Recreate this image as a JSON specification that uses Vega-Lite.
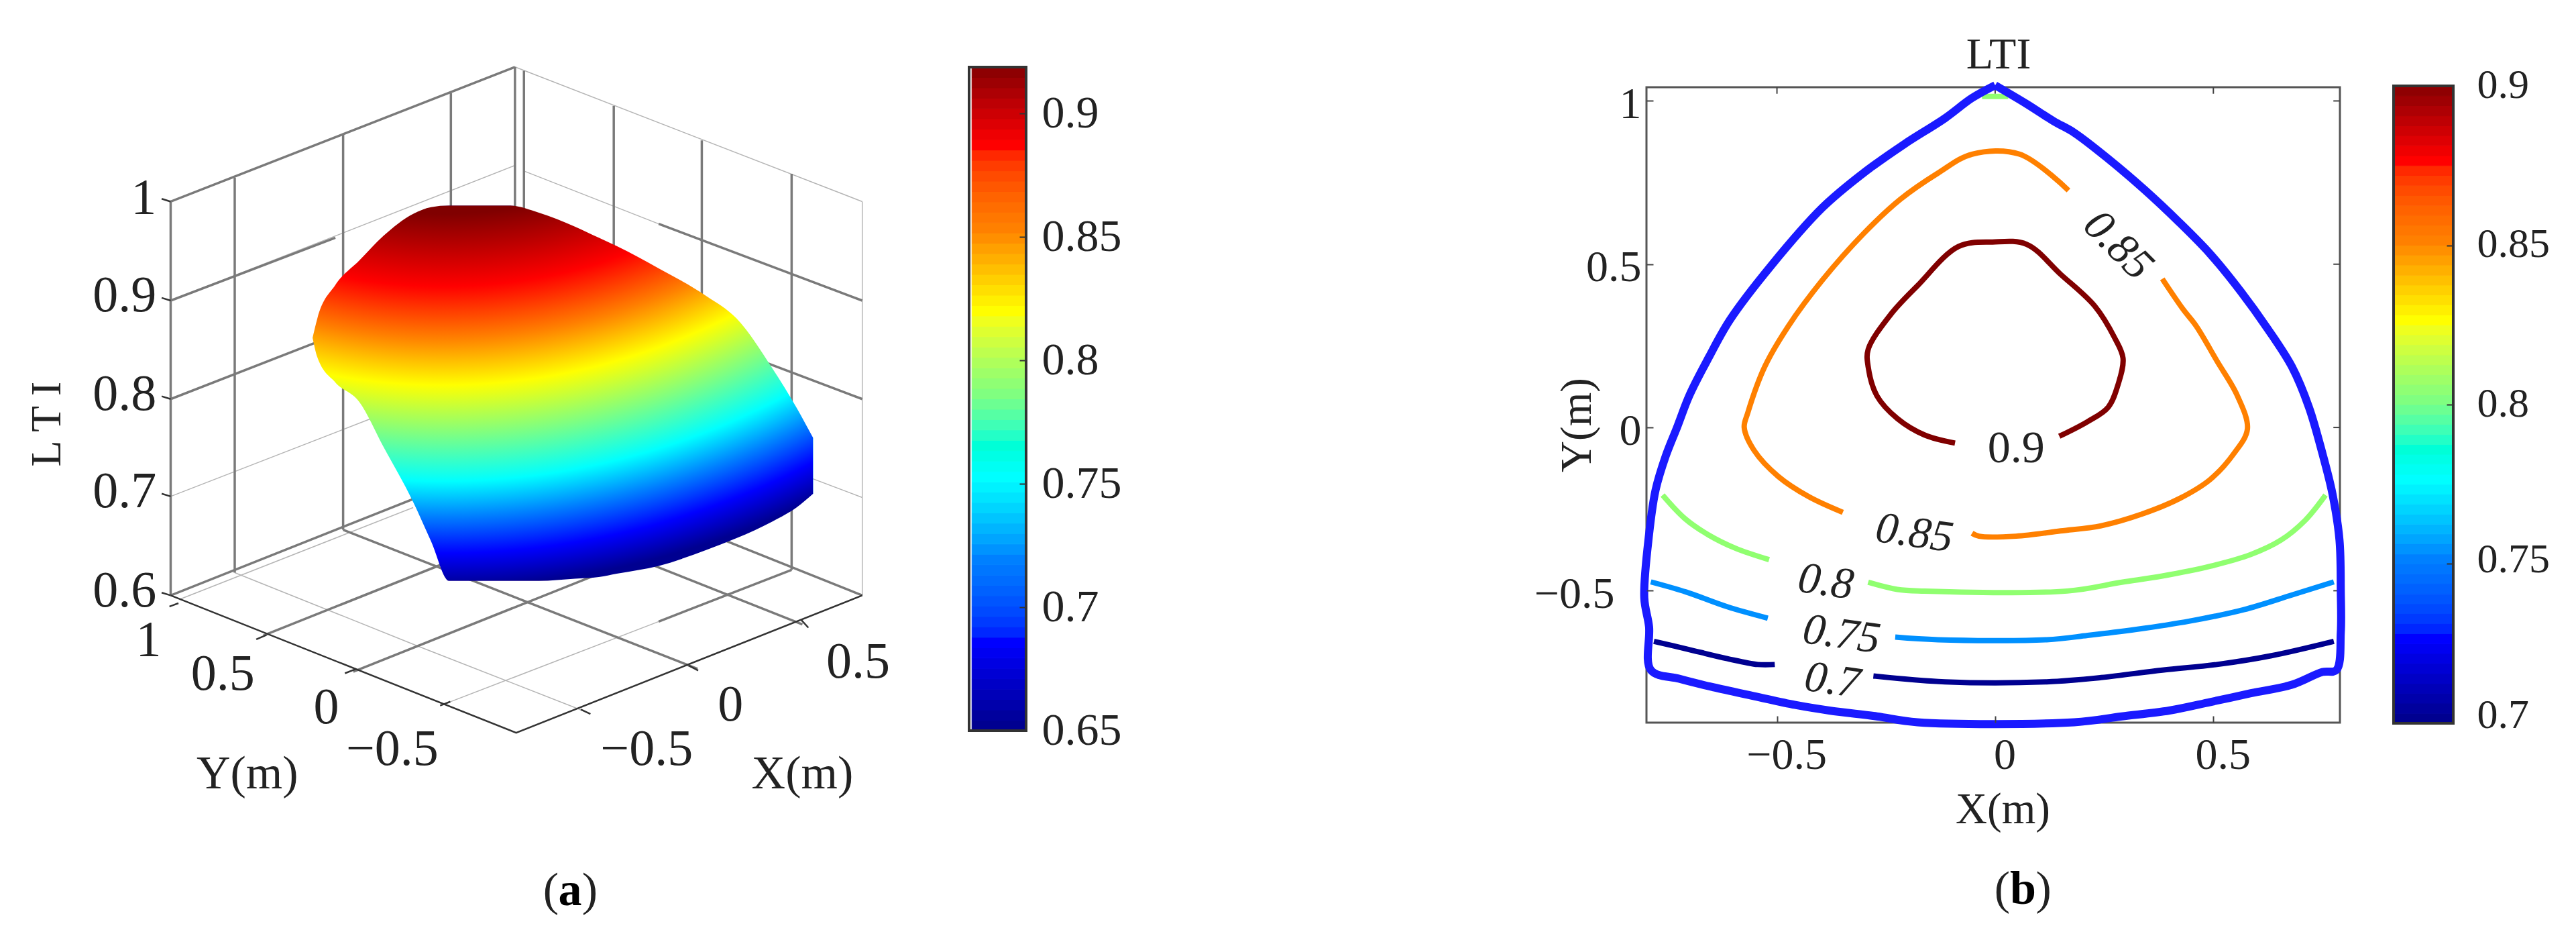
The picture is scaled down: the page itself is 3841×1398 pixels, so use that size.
{
"$schema":"https://vega.github.io/schema/vega-lite/v6.json",
"width":3841,"height":1398,"padding":0,"autosize":{"type":"none"},"background":"white",
"config":{"view":{"stroke":null},"text":{"font":"Liberation Serif","color":"#222"},"axis":{"labelFont":"Liberation Serif","titleFont":"Liberation Serif","labelColor":"#222","titleColor":"#222","titleFontWeight":"normal","grid":false}},
"resolve":{"scale":{"x":"independent","y":"independent","color":"independent","stroke":"independent"}},
"layer":[
{"encoding":{
  "x":{"field":"u","type":"quantitative","axis":null,"scale":{"domain":[0,1568],"range":[0,1400],"nice":false,"zero":false}},
  "y":{"field":"v","type":"quantitative","axis":null,"scale":{"domain":[0,1568],"range":[60,1360],"nice":false,"zero":false}}},
 "layer":[
  {"data":{"values":[
   {"id":"a","u":392,"v":957},{"id":"a","u":700,"v":1090},
   {"id":"b","u":300,"v":1005},{"id":"b","u":690,"v":840},
   {"id":"c","u":285,"v":468},{"id":"c","u":860,"v":225},
   {"id":"e","u":285,"v":645},{"id":"e","u":860,"v":405},
   {"id":"f","u":875,"v":235},{"id":"f","u":1100,"v":330},
   {"id":"g","u":750,"v":1190},{"id":"g","u":1100,"v":1045},
   {"id":"h","u":285,"v":820},{"id":"h","u":620,"v":680},
   {"id":"i","u":700,"v":1090},{"id":"i","u":985,"v":1210},
   {"id":"j","u":875,"v":592},{"id":"j","u":1440,"v":822},
   {"id":"k","u":860,"v":48},{"id":"k","u":1440,"v":290},
   {"id":"l","u":1440,"v":290},{"id":"l","u":1440,"v":998}
  ]},
  "mark":{"type":"line","order":false,"stroke":"#b5b5b5","strokeWidth":1.5},"encoding":{"detail":{"field":"id"}}},
  {"data":{"values":[
   {"id":"1","u":285,"v":290},{"id":"1","u":860,"v":48},
   {"id":"2","u":875,"v":55},{"id":"2","u":875,"v":760},
   {"id":"3","u":860,"v":48},{"id":"3","u":860,"v":752},
   {"id":"4","u":392,"v":247},{"id":"4","u":392,"v":957},
   {"id":"5","u":573,"v":170},{"id":"5","u":573,"v":880},
   {"id":"6","u":753,"v":95},{"id":"6","u":753,"v":805},
   {"id":"7","u":1025,"v":118},{"id":"7","u":1025,"v":830},
   {"id":"8","u":1172,"v":180},{"id":"8","u":1172,"v":890},
   {"id":"9","u":1322,"v":240},{"id":"9","u":1322,"v":952},
   {"id":"10","u":285,"v":468},{"id":"10","u":560,"v":355},
   {"id":"11","u":1100,"v":330},{"id":"11","u":1440,"v":468},
   {"id":"12","u":875,"v":415},{"id":"12","u":1440,"v":645},
   {"id":"13","u":875,"v":755},{"id":"13","u":1440,"v":998},
   {"id":"14","u":285,"v":998},{"id":"14","u":860,"v":752},
   {"id":"15","u":573,"v":880},{"id":"15","u":1165,"v":1130},
   {"id":"16","u":753,"v":800},{"id":"16","u":1340,"v":1050},
   {"id":"17","u":440,"v":1070},{"id":"17","u":1018,"v":822},
   {"id":"18","u":590,"v":1135},{"id":"18","u":1168,"v":887},
   {"id":"19","u":1100,"v":1045},{"id":"19","u":1322,"v":952},
   {"id":"20","u":285,"v":290},{"id":"20","u":285,"v":998},
   {"id":"21","u":285,"v":645},{"id":"21","u":600,"v":513}
  ]},
  "mark":{"type":"line","order":false,"stroke":"#7a7a7a","strokeWidth":3.5},"encoding":{"detail":{"field":"id"}}},
  {"data":{"values":[
   {"id":"l","u":285,"v":998},{"id":"l","u":862,"v":1245},{"id":"l","u":1440,"v":998},
   {"id":"z1","u":270,"v":285},{"id":"z1","u":285,"v":290},
   {"id":"z2","u":270,"v":463},{"id":"z2","u":285,"v":468},
   {"id":"z3","u":270,"v":640},{"id":"z3","u":285,"v":645},
   {"id":"z4","u":270,"v":815},{"id":"z4","u":285,"v":820},
   {"id":"z5","u":270,"v":993},{"id":"z5","u":285,"v":998},
   {"id":"y1","u":283,"v":1018},{"id":"y1","u":298,"v":1012},
   {"id":"y2","u":428,"v":1077},{"id":"y2","u":445,"v":1069},
   {"id":"y3","u":576,"v":1138},{"id":"y3","u":595,"v":1130},
   {"id":"y4","u":735,"v":1196},{"id":"y4","u":752,"v":1189},
   {"id":"x1","u":1338,"v":1042},{"id":"x1","u":1350,"v":1056},
   {"id":"x2","u":1150,"v":1124},{"id":"x2","u":1166,"v":1133},
   {"id":"x3","u":970,"v":1203},{"id":"x3","u":986,"v":1211}
  ]},
  "mark":{"type":"line","order":false,"stroke":"#333","strokeWidth":2.5},"encoding":{"detail":{"field":"id"}}},
  {"data":{"values":[
   {"u":522,"top":535,"bottom":535},{"u":530,"top":500,"bottom":570},{"u":560,"top":440,"bottom":615},{"u":600,"top":396,"bottom":650},{"u":640,"top":352,"bottom":730},{"u":690,"top":312,"bottom":830},{"u":720,"top":300,"bottom":901},{"u":750,"top":297,"bottom":972},{"u":850,"top":297,"bottom":972},{"u":900,"top":310,"bottom":972},{"u":960,"top":335,"bottom":968},{"u":1000,"top":355,"bottom":965},{"u":1030,"top":370,"bottom":959},{"u":1100,"top":410,"bottom":945},{"u":1180,"top":460,"bottom":916},{"u":1230,"top":500,"bottom":895},{"u":1290,"top":590,"bottom":865},{"u":1330,"top":660,"bottom":840},{"u":1358,"top":715,"bottom":815}
  ]},
  "mark":{"type":"area","interpolate":"monotone","color":{"gradient":"radial","x1":0.26,"y1":-0.783,"r1":0,"x2":0.26,"y2":-0.783,"r2":1.669,"stops":[
    {"offset":0.554,"color":"#800000"},{"offset":0.641,"color":"#ff0000"},{"offset":0.703,"color":"#ff8000"},{"offset":0.759,"color":"#ffff00"},{"offset":0.817,"color":"#80ff80"},{"offset":0.874,"color":"#00ffff"},{"offset":0.916,"color":"#0080ff"},{"offset":0.96,"color":"#0000ff"},{"offset":1,"color":"#000090"}]}},
  "encoding":{"y":{"field":"top","type":"quantitative"},"y2":{"field":"bottom"}}},
  {"data":{"values":[
   {"t":"1","u":240,"v":285},{"t":"0.9","u":208,"v":460},{"t":"0.8","u":208,"v":637},{"t":"0.7","u":208,"v":812},{"t":"0.6","u":208,"v":990},
   {"t":"1","u":248,"v":1080},{"t":"0.5","u":372,"v":1140},{"t":"0","u":545,"v":1200},{"t":"−0.5","u":655,"v":1275},
   {"t":"−0.5","u":1080,"v":1275},{"t":"0","u":1220,"v":1195},{"t":"0.5","u":1433,"v":1118}
  ]},
  "mark":{"type":"text","fontSize":76,"align":"center","baseline":"middle"},"encoding":{"text":{"field":"t"}}},
  {"data":{"values":[{"t":"Y(m)","u":413,"v":1320},{"t":"X(m)","u":1340,"v":1320}]},
  "mark":{"type":"text","fontSize":70,"align":"center","baseline":"middle"},"encoding":{"text":{"field":"t"}}},
  {"data":{"values":[{"t":"L T I","u":80,"v":690}]},
  "mark":{"type":"text","fontSize":64,"angle":270,"align":"center","baseline":"middle"},"encoding":{"text":{"field":"t"}}},
  {"data":{"values":[{"t":"(","u":920,"v":1530},{"t":")","u":985,"v":1530}]},
  "mark":{"type":"text","fontSize":70,"align":"center","baseline":"middle"},"encoding":{"text":{"field":"t"}}},
  {"data":{"values":[{"t":"a","u":952,"v":1530}]},
  "mark":{"type":"text","fontSize":70,"fontWeight":"bold","align":"center","baseline":"middle","color":"#000"},"encoding":{"text":{"field":"t"}}}
 ]},
{"data":{"values":[
 {"lo":0.65,"hi":0.6542},{"lo":0.6542,"hi":0.6584},{"lo":0.6584,"hi":0.6626},{"lo":0.6626,"hi":0.6668},{"lo":0.6668,"hi":0.671},{"lo":0.671,"hi":0.6752},{"lo":0.6752,"hi":0.6794},{"lo":0.6794,"hi":0.6836},{"lo":0.6836,"hi":0.6878},{"lo":0.6878,"hi":0.692},{"lo":0.692,"hi":0.6962},{"lo":0.6962,"hi":0.7004},{"lo":0.7004,"hi":0.7046},{"lo":0.7046,"hi":0.7088},{"lo":0.7088,"hi":0.713},{"lo":0.713,"hi":0.7172},{"lo":0.7172,"hi":0.7214},{"lo":0.7214,"hi":0.7256},{"lo":0.7256,"hi":0.7298},{"lo":0.7298,"hi":0.734},{"lo":0.734,"hi":0.7382},{"lo":0.7382,"hi":0.7424},{"lo":0.7424,"hi":0.7466},{"lo":0.7466,"hi":0.7508},{"lo":0.7508,"hi":0.755},{"lo":0.755,"hi":0.7592},{"lo":0.7592,"hi":0.7634},{"lo":0.7634,"hi":0.7676},{"lo":0.7676,"hi":0.7718},{"lo":0.7718,"hi":0.776},{"lo":0.776,"hi":0.7802},{"lo":0.7802,"hi":0.7844},{"lo":0.7844,"hi":0.7886},{"lo":0.7886,"hi":0.7928},{"lo":0.7928,"hi":0.797},{"lo":0.797,"hi":0.8012},{"lo":0.8012,"hi":0.8054},{"lo":0.8054,"hi":0.8096},{"lo":0.8096,"hi":0.8138},{"lo":0.8138,"hi":0.818},{"lo":0.818,"hi":0.8222},{"lo":0.8222,"hi":0.8264},{"lo":0.8264,"hi":0.8306},{"lo":0.8306,"hi":0.8348},{"lo":0.8348,"hi":0.839},{"lo":0.839,"hi":0.8432},{"lo":0.8432,"hi":0.8474},{"lo":0.8474,"hi":0.8516},{"lo":0.8516,"hi":0.8558},{"lo":0.8558,"hi":0.86},{"lo":0.86,"hi":0.8642},{"lo":0.8642,"hi":0.8684},{"lo":0.8684,"hi":0.8726},{"lo":0.8726,"hi":0.8768},{"lo":0.8768,"hi":0.881},{"lo":0.881,"hi":0.8852},{"lo":0.8852,"hi":0.8894},{"lo":0.8894,"hi":0.8936},{"lo":0.8936,"hi":0.8978},{"lo":0.8978,"hi":0.902},{"lo":0.902,"hi":0.9062},{"lo":0.9062,"hi":0.9104},{"lo":0.9104,"hi":0.9146},{"lo":0.9146,"hi":0.9188}
 ]},
 "encoding":{
  "x":{"datum":0,"type":"quantitative","axis":null,"scale":{"domain":[0,1],"range":[1445,1530],"nice":false,"zero":false}},
  "x2":{"datum":1},
  "y":{"field":"lo","type":"quantitative","title":null,"scale":{"domain":[0.65,0.9188],"range":[1089,100],"nice":false,"zero":false},
   "axis":{"orient":"right","offset":-2311,"values":[0.65,0.7,0.75,0.8,0.85,0.9],"format":"~g","tickSize":-10,"tickColor":"#333","tickWidth":2,"domain":false,"labelFontSize":68,"labelPadding":33,"labelBaseline":"middle","labelOverlap":false,"zindex":1}},
  "y2":{"field":"hi"}},
 "layer":[
  {"mark":{"type":"rect","strokeWidth":1},"encoding":{"x":{"datum":0.05,"type":"quantitative"},
    "color":{"field":"lo","type":"quantitative","legend":null,"scale":{"domain":[0.65,0.6836,0.7171,0.7507,0.7843,0.8178,0.8514,0.885,0.9185],"range":["#000090","#0000ff","#0080ff","#00ffff","#80ff80","#ffff00","#ff8000","#ff0000","#800000"]}},
    "stroke":{"field":"lo","type":"quantitative","legend":null,"scale":{"domain":[0.65,0.6836,0.7171,0.7507,0.7843,0.8178,0.8514,0.885,0.9185],"range":["#000090","#0000ff","#0080ff","#00ffff","#80ff80","#ffff00","#ff8000","#ff0000","#800000"]}}}},
  {"data":{"values":[{"lo":0.65,"hi":0.9188}]},"mark":{"type":"rect","fill":null,"stroke":"#333","strokeWidth":4}}
 ]},
{"encoding":{
  "x":{"field":"X","type":"quantitative","title":"X(m)","scale":{"domain":[-0.799,0.79],"range":[2455,3489],"nice":false,"zero":false},
   "axis":{"orient":"bottom","offset":-321,"values":[-0.5,0,0.5],"format":"~g","tickSize":-10,"tickColor":"#444","tickWidth":2,"domain":false,"labelFontSize":66,"labelPadding":26,"labelOffset":14,"titleFontSize":65,"titleX":2986,"titleY":129,"titleBaseline":"middle","titleAlign":"center","zindex":1}},
  "y":{"field":"Y","type":"quantitative","title":"Y(m)","scale":{"domain":[-0.904,1.042],"range":[1077,130],"nice":false,"zero":false},
   "axis":{"orient":"left","offset":-2455,"values":[-0.5,0,0.5,1],"format":"~g","tickSize":-10,"tickColor":"#444","tickWidth":2,"domain":false,"labelFontSize":66,"labelPadding":{"condition":{"test":"datum.value < 0","value":58},"value":18},"labelOffset":5,"titleFontSize":65,"titleX":-104,"titleY":633,"titleBaseline":"middle","titleAlign":"center","titleAngle":270,"zindex":1}}},
 "layer":[
  {"data":{"values":[{"X":-0.799,"X2":0.79,"Y":-0.904,"Y2":1.042}]},"mark":{"type":"rect","fill":null,"stroke":"#555","strokeWidth":3},"encoding":{"x2":{"field":"X2"},"y2":{"field":"Y2"}}},
  {"data":{"values":[
   {"X":-0.5,"X2":-0.5,"Y":1.042,"Y2":1.022},{"X":0,"X2":0,"Y":1.042,"Y2":1.022},{"X":0.5,"X2":0.5,"Y":1.042,"Y2":1.022},
   {"X":0.79,"X2":0.775,"Y":1,"Y2":1},{"X":0.79,"X2":0.775,"Y":0.5,"Y2":0.5},{"X":0.79,"X2":0.775,"Y":0,"Y2":0},{"X":0.79,"X2":0.775,"Y":-0.5,"Y2":-0.5}
  ]},"mark":{"type":"rule","stroke":"#444","strokeWidth":2},"encoding":{"x2":{"field":"X2"},"y2":{"field":"Y2"}}},
  {"data":{"values":[
   {"seg":"g0","level":0.8,"X":-0.03,"Y":1.014},{"seg":"g0","level":0.8,"X":0.03,"Y":1.014},
   {"seg":"g1","level":0.8,"X":-0.762,"Y":-0.207},{"seg":"g1","level":0.8,"X":-0.711,"Y":-0.279},{"seg":"g1","level":0.8,"X":-0.657,"Y":-0.329},{"seg":"g1","level":0.8,"X":-0.595,"Y":-0.37},{"seg":"g1","level":0.8,"X":-0.518,"Y":-0.405},
   {"seg":"g2","level":0.8,"X":-0.291,"Y":-0.474},{"seg":"g2","level":0.8,"X":-0.224,"Y":-0.496},{"seg":"g2","level":0.8,"X":-0.162,"Y":-0.501},{"seg":"g2","level":0.8,"X":0.165,"Y":-0.501},{"seg":"g2","level":0.8,"X":0.29,"Y":-0.474},{"seg":"g2","level":0.8,"X":0.383,"Y":-0.455},{"seg":"g2","level":0.8,"X":0.493,"Y":-0.425},{"seg":"g2","level":0.8,"X":0.586,"Y":-0.389},{"seg":"g2","level":0.8,"X":0.655,"Y":-0.345},{"seg":"g2","level":0.8,"X":0.71,"Y":-0.285},{"seg":"g2","level":0.8,"X":0.757,"Y":-0.207},
   {"seg":"b1","level":0.75,"X":-0.789,"Y":-0.473},{"seg":"b1","level":0.75,"X":-0.708,"Y":-0.504},{"seg":"b1","level":0.75,"X":-0.614,"Y":-0.549},{"seg":"b1","level":0.75,"X":-0.521,"Y":-0.584},
   {"seg":"b2","level":0.75,"X":-0.229,"Y":-0.642},{"seg":"b2","level":0.75,"X":-0.131,"Y":-0.65},{"seg":"b2","level":0.75,"X":0.118,"Y":-0.65},{"seg":"b2","level":0.75,"X":0.212,"Y":-0.637},{"seg":"b2","level":0.75,"X":0.321,"Y":-0.619},{"seg":"b2","level":0.75,"X":0.446,"Y":-0.593},{"seg":"b2","level":0.75,"X":0.57,"Y":-0.558},{"seg":"b2","level":0.75,"X":0.68,"Y":-0.513},{"seg":"b2","level":0.75,"X":0.776,"Y":-0.473},
   {"seg":"d1","level":0.7,"X":-0.782,"Y":-0.655},{"seg":"d1","level":0.7,"X":-0.708,"Y":-0.678},{"seg":"d1","level":0.7,"X":-0.614,"Y":-0.708},{"seg":"d1","level":0.7,"X":-0.544,"Y":-0.726},{"seg":"d1","level":0.7,"X":-0.505,"Y":-0.726},
   {"seg":"d2","level":0.7,"X":-0.279,"Y":-0.761},{"seg":"d2","level":0.7,"X":-0.115,"Y":-0.779},{"seg":"d2","level":0.7,"X":0.118,"Y":-0.779},{"seg":"d2","level":0.7,"X":0.243,"Y":-0.766},{"seg":"d2","level":0.7,"X":0.383,"Y":-0.743},{"seg":"d2","level":0.7,"X":0.508,"Y":-0.726},{"seg":"d2","level":0.7,"X":0.633,"Y":-0.699},{"seg":"d2","level":0.7,"X":0.776,"Y":-0.655},
   {"seg":"o1","level":0.85,"X":0.168,"Y":0.726},{"seg":"o1","level":0.85,"X":0.056,"Y":0.837},{"seg":"o1","level":0.85,"X":-0.053,"Y":0.837},{"seg":"o1","level":0.85,"X":-0.131,"Y":0.779},{"seg":"o1","level":0.85,"X":-0.217,"Y":0.699},{"seg":"o1","level":0.85,"X":-0.302,"Y":0.593},{"seg":"o1","level":0.85,"X":-0.396,"Y":0.451},{"seg":"o1","level":0.85,"X":-0.474,"Y":0.31},{"seg":"o1","level":0.85,"X":-0.528,"Y":0.186},{"seg":"o1","level":0.85,"X":-0.567,"Y":0.044},{"seg":"o1","level":0.85,"X":-0.575,"Y":0},{"seg":"o1","level":0.85,"X":-0.552,"Y":-0.071},{"seg":"o1","level":0.85,"X":-0.497,"Y":-0.15},{"seg":"o1","level":0.85,"X":-0.427,"Y":-0.212},{"seg":"o1","level":0.85,"X":-0.349,"Y":-0.26},
   {"seg":"o2","level":0.85,"X":-0.053,"Y":-0.324},{"seg":"o2","level":0.85,"X":-0.037,"Y":-0.333},{"seg":"o2","level":0.85,"X":0.048,"Y":-0.333},{"seg":"o2","level":0.85,"X":0.15,"Y":-0.317},{"seg":"o2","level":0.85,"X":0.243,"Y":-0.301},{"seg":"o2","level":0.85,"X":0.337,"Y":-0.265},{"seg":"o2","level":0.85,"X":0.422,"Y":-0.218},{"seg":"o2","level":0.85,"X":0.493,"Y":-0.159},{"seg":"o2","level":0.85,"X":0.547,"Y":-0.08},{"seg":"o2","level":0.85,"X":0.578,"Y":-0.005},{"seg":"o2","level":0.85,"X":0.555,"Y":0.097},{"seg":"o2","level":0.85,"X":0.508,"Y":0.204},{"seg":"o2","level":0.85,"X":0.461,"Y":0.31},{"seg":"o2","level":0.85,"X":0.43,"Y":0.363},{"seg":"o2","level":0.85,"X":0.383,"Y":0.455},
   {"seg":"r1","level":0.9,"X":-0.092,"Y":-0.048},{"seg":"r1","level":0.9,"X":-0.162,"Y":-0.023},{"seg":"r1","level":0.9,"X":-0.224,"Y":0.027},{"seg":"r1","level":0.9,"X":-0.271,"Y":0.097},{"seg":"r1","level":0.9,"X":-0.291,"Y":0.186},{"seg":"r1","level":0.9,"X":-0.291,"Y":0.239},{"seg":"r1","level":0.9,"X":-0.24,"Y":0.345},{"seg":"r1","level":0.9,"X":-0.178,"Y":0.434},{"seg":"r1","level":0.9,"X":-0.084,"Y":0.554},{"seg":"r1","level":0.9,"X":-0.006,"Y":0.568},{"seg":"r1","level":0.9,"X":0.072,"Y":0.561},{"seg":"r1","level":0.9,"X":0.15,"Y":0.469},{"seg":"r1","level":0.9,"X":0.228,"Y":0.372},{"seg":"r1","level":0.9,"X":0.274,"Y":0.274},{"seg":"r1","level":0.9,"X":0.293,"Y":0.212},{"seg":"r1","level":0.9,"X":0.282,"Y":0.133},{"seg":"r1","level":0.9,"X":0.259,"Y":0.062},{"seg":"r1","level":0.9,"X":0.212,"Y":0.018},{"seg":"r1","level":0.9,"X":0.147,"Y":-0.027}
  ]},
  "mark":{"type":"line","order":false,"strokeWidth":8,"strokeJoin":"round","interpolate":"catmull-rom"},
  "encoding":{"detail":{"field":"seg"},"color":{"field":"level","type":"quantitative","legend":null,"scale":{"domain":[0.7,0.725,0.75,0.775,0.8,0.825,0.85,0.875,0.9],"range":["#000090","#0000ff","#0090ff","#00ffff","#90ff70","#ffff00","#ff8000","#ff0000","#800000"]}}}},
  {"data":{"values":[
   {"X":0,"Y":1.048},{"X":0.072,"Y":0.991},{"X":0.134,"Y":0.938},{"X":0.181,"Y":0.903},{"X":0.259,"Y":0.823},{"X":0.344,"Y":0.726},{"X":0.422,"Y":0.628},{"X":0.493,"Y":0.531},{"X":0.563,"Y":0.416},{"X":0.625,"Y":0.301},{"X":0.68,"Y":0.186},{"X":0.719,"Y":0.062},{"X":0.75,"Y":-0.08},{"X":0.773,"Y":-0.204},{"X":0.789,"Y":-0.345},{"X":0.792,"Y":-0.504},{"X":0.792,"Y":-0.628},{"X":0.782,"Y":-0.743},{"X":0.75,"Y":-0.749},{"X":0.68,"Y":-0.788},{"X":0.586,"Y":-0.814},{"X":0.493,"Y":-0.841},{"X":0.399,"Y":-0.867},{"X":0.29,"Y":-0.885},{"X":0.181,"Y":-0.903},{"X":-0.178,"Y":-0.903},{"X":-0.271,"Y":-0.885},{"X":-0.38,"Y":-0.867},{"X":-0.458,"Y":-0.85},{"X":-0.552,"Y":-0.823},{"X":-0.645,"Y":-0.796},{"X":-0.723,"Y":-0.77},{"X":-0.789,"Y":-0.743},{"X":-0.793,"Y":-0.611},{"X":-0.804,"Y":-0.522},{"X":-0.793,"Y":-0.327},{"X":-0.778,"Y":-0.191},{"X":-0.755,"Y":-0.088},{"X":-0.729,"Y":0},{"X":-0.7,"Y":0.1},{"X":-0.656,"Y":0.215},{"X":-0.608,"Y":0.329},{"X":-0.513,"Y":0.496},{"X":-0.396,"Y":0.673},{"X":-0.302,"Y":0.779},{"X":-0.209,"Y":0.867},{"X":-0.115,"Y":0.947},{"X":-0.053,"Y":1.009},{"X":0,"Y":1.048}
  ]},
  "mark":{"type":"line","order":false,"stroke":"#1a1aff","strokeWidth":12,"strokeJoin":"round","interpolate":"catmull-rom"}},
  {"data":{"values":[{"t":"0.9","X":0.048,"Y":-0.065}]},"mark":{"type":"text","fontSize":68,"align":"center","baseline":"middle"},"encoding":{"text":{"field":"t"}}},
  {"data":{"values":[{"t":"0.85","X":-0.185,"Y":-0.324},{"t":"0.8","X":-0.388,"Y":-0.473},{"t":"0.75","X":-0.352,"Y":-0.634},{"t":"0.7","X":-0.373,"Y":-0.775}]},"mark":{"type":"text","fontSize":66,"fontStyle":"italic","angle":8,"align":"center","baseline":"middle"},"encoding":{"text":{"field":"t"}}},
  {"data":{"values":[{"t":"0.85","X":0.282,"Y":0.558}]},"mark":{"type":"text","fontSize":66,"fontStyle":"italic","angle":45,"align":"center","baseline":"middle"},"encoding":{"text":{"field":"t"}}},
  {"data":{"values":[{"t":"LTI","X":0.008,"Y":1.14}]},"mark":{"type":"text","fontSize":66,"align":"center","baseline":"middle"},"encoding":{"text":{"field":"t"}}},
  {"data":{"values":[{"t":"(","X":0.016,"Y":-1.416},{"t":")","X":0.111,"Y":-1.416}]},"mark":{"type":"text","fontSize":70,"align":"center","baseline":"middle"},"encoding":{"text":{"field":"t"}}},
  {"data":{"values":[{"t":"b","X":0.064,"Y":-1.416}]},"mark":{"type":"text","fontSize":70,"fontWeight":"bold","color":"#000","align":"center","baseline":"middle"},"encoding":{"text":{"field":"t"}}}
 ]},
{"data":{"values":[
 {"lo":0.7,"hi":0.7031},{"lo":0.7031,"hi":0.7063},{"lo":0.7063,"hi":0.7094},{"lo":0.7094,"hi":0.7125},{"lo":0.7125,"hi":0.7156},{"lo":0.7156,"hi":0.7188},{"lo":0.7188,"hi":0.7219},{"lo":0.7219,"hi":0.725},{"lo":0.725,"hi":0.7281},{"lo":0.7281,"hi":0.7313},{"lo":0.7313,"hi":0.7344},{"lo":0.7344,"hi":0.7375},{"lo":0.7375,"hi":0.7406},{"lo":0.7406,"hi":0.7438},{"lo":0.7438,"hi":0.7469},{"lo":0.7469,"hi":0.75},{"lo":0.75,"hi":0.7531},{"lo":0.7531,"hi":0.7563},{"lo":0.7563,"hi":0.7594},{"lo":0.7594,"hi":0.7625},{"lo":0.7625,"hi":0.7656},{"lo":0.7656,"hi":0.7688},{"lo":0.7688,"hi":0.7719},{"lo":0.7719,"hi":0.775},{"lo":0.775,"hi":0.7781},{"lo":0.7781,"hi":0.7813},{"lo":0.7813,"hi":0.7844},{"lo":0.7844,"hi":0.7875},{"lo":0.7875,"hi":0.7906},{"lo":0.7906,"hi":0.7938},{"lo":0.7938,"hi":0.7969},{"lo":0.7969,"hi":0.8},{"lo":0.8,"hi":0.8031},{"lo":0.8031,"hi":0.8063},{"lo":0.8063,"hi":0.8094},{"lo":0.8094,"hi":0.8125},{"lo":0.8125,"hi":0.8156},{"lo":0.8156,"hi":0.8188},{"lo":0.8188,"hi":0.8219},{"lo":0.8219,"hi":0.825},{"lo":0.825,"hi":0.8281},{"lo":0.8281,"hi":0.8313},{"lo":0.8313,"hi":0.8344},{"lo":0.8344,"hi":0.8375},{"lo":0.8375,"hi":0.8406},{"lo":0.8406,"hi":0.8438},{"lo":0.8438,"hi":0.8469},{"lo":0.8469,"hi":0.85},{"lo":0.85,"hi":0.8531},{"lo":0.8531,"hi":0.8563},{"lo":0.8563,"hi":0.8594},{"lo":0.8594,"hi":0.8625},{"lo":0.8625,"hi":0.8656},{"lo":0.8656,"hi":0.8688},{"lo":0.8688,"hi":0.8719},{"lo":0.8719,"hi":0.875},{"lo":0.875,"hi":0.8781},{"lo":0.8781,"hi":0.8813},{"lo":0.8813,"hi":0.8844},{"lo":0.8844,"hi":0.8875},{"lo":0.8875,"hi":0.8906},{"lo":0.8906,"hi":0.8938},{"lo":0.8938,"hi":0.8969},{"lo":0.8969,"hi":0.9}
 ]},
 "encoding":{
  "x":{"datum":0,"type":"quantitative","axis":null,"scale":{"domain":[0,1],"range":[3569,3658],"nice":false,"zero":false}},
  "x2":{"datum":1},
  "y":{"field":"lo","type":"quantitative","title":null,"scale":{"domain":[0.7,0.9],"range":[1078,128],"nice":false,"zero":false},
   "axis":{"orient":"right","offset":-183,"values":[0.7,0.75,0.8,0.85,0.9],"format":"~g","tickSize":-10,"tickColor":"#333","tickWidth":2,"domain":false,"labelFontSize":62,"labelPadding":45,"labelBaseline":"middle","labelOverlap":false,"labelOffset":{"condition":[{"test":"datum.value == 0.7","value":-13},{"test":"datum.value == 0.75","value":-7}],"value":-2},"zindex":1}},
  "y2":{"field":"hi"}},
 "layer":[
  {"mark":{"type":"rect","strokeWidth":1},"encoding":{
    "color":{"field":"lo","type":"quantitative","legend":null,"scale":{"domain":[0.7,0.725,0.75,0.775,0.8,0.825,0.85,0.875,0.9],"range":["#000090","#0000ff","#0080ff","#00ffff","#80ff80","#ffff00","#ff8000","#ff0000","#800000"]}},
    "stroke":{"field":"lo","type":"quantitative","legend":null,"scale":{"domain":[0.7,0.725,0.75,0.775,0.8,0.825,0.85,0.875,0.9],"range":["#000090","#0000ff","#0080ff","#00ffff","#80ff80","#ffff00","#ff8000","#ff0000","#800000"]}}}},
  {"data":{"values":[{"lo":0.7,"hi":0.9}]},"mark":{"type":"rect","fill":null,"stroke":"#333","strokeWidth":4}}
 ]}
]}
